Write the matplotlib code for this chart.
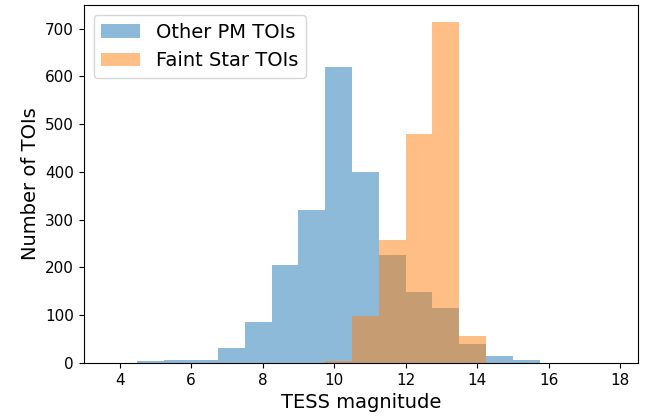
import matplotlib
matplotlib.use("Agg")
import matplotlib.pyplot as plt
import numpy as np

# bin edges in TESS magnitude (width 0.75)
edges = np.linspace(3.75, 18.0, 20)

# counts per bin (bins 3.75 ... 17.25)
other_pm = [0, 3, 5, 5, 31, 85, 206, 320, 620, 400, 227, 148, 114, 39, 15, 5, 0, 0, 0]
faint_star = [0, 0, 0, 0, 0, 0, 0, 0, 3, 98, 258, 480, 714, 56, 0, 0, 0, 0, 0]

centers = (edges[:-1] + edges[1:]) / 2

fig, ax = plt.subplots(figsize=(6.55, 4.2), dpi=100)
ax.hist(centers, bins=edges, weights=other_pm, alpha=0.5, label='Other PM TOIs')
ax.hist(centers, bins=edges, weights=faint_star, alpha=0.5, label='Faint Star TOIs')

ax.set_xlim(3.0, 18.5)
ax.set_xticks([4, 6, 8, 10, 12, 14, 16, 18])
ax.set_xlabel('TESS magnitude', fontsize=14)
ax.set_ylabel('Number of TOIs', fontsize=14)
ax.tick_params(labelsize=11)
ax.legend(loc='upper left', fontsize=14)

fig.subplots_adjust(left=0.128, right=0.974, bottom=0.136, top=0.988)
fig.savefig('out.png', dpi=100)
